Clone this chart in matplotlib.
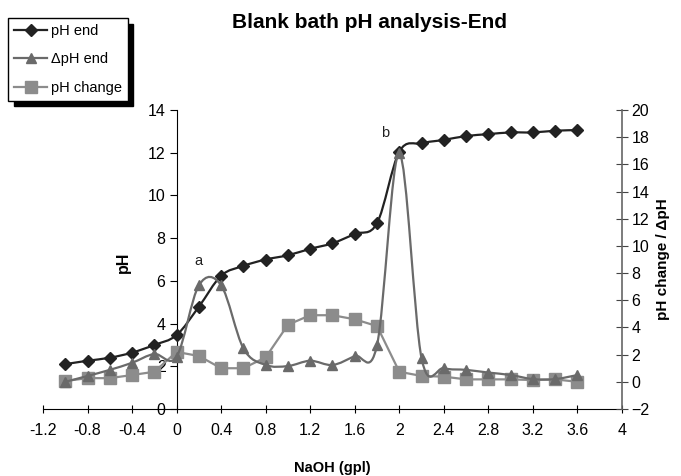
import numpy as np
import matplotlib
matplotlib.use('Agg')
import matplotlib.pyplot as plt
from matplotlib.path import Path
from matplotlib.patches import PathPatch
from matplotlib.lines import Line2D

plt.rcParams['font.family'] = ['Liberation Sans', 'DejaVu Sans']

# NaOH (gpl)
naoh = [-1.0, -0.8, -0.6, -0.4, -0.2, 0.0, 0.2, 0.4, 0.6, 0.8, 1.0, 1.2,
        1.4, 1.6, 1.8, 2.0, 2.2, 2.4, 2.6, 2.8, 3.0, 3.2, 3.4, 3.6]

# left axis
ph_end = [2.1, 2.26, 2.4, 2.64, 3.0, 3.46, 4.79, 6.24, 6.7, 7.0, 7.2, 7.5,
          7.76, 8.2, 8.7, 12.05, 12.44, 12.6, 12.78, 12.87, 12.95, 12.95, 13.03, 13.06]

# right axis
dph_end = [0.0, 0.43, 0.88, 1.4, 2.05, 1.85, 7.1, 7.1, 2.46, 1.24, 1.16, 1.55,
           1.24, 1.9, 2.7, 16.8, 1.73, 1.0, 0.88, 0.68, 0.5, 0.2, 0.2, 0.5]
ph_change = [0.06, 0.27, 0.27, 0.5, 0.74, 2.2, 1.9, 1.0, 1.0, 1.8, 4.2, 4.9,
             4.9, 4.6, 4.1, 0.74, 0.43, 0.38, 0.18, 0.18, 0.18, 0.13, 0.18, 0.0]

x_ticks = [-1.2, -0.8, -0.4, 0, 0.4, 0.8, 1.2, 1.6, 2, 2.4, 2.8, 3.2, 3.6, 4]
x_labels = ['-1.2', '-0.8', '-0.4', '0', '0.4', '0.8', '1.2', '1.6', '2', '2.4', '2.8', '3.2', '3.6', '4']
left_ticks = [0, 2, 4, 6, 8, 10, 12, 14]
right_ticks = [-2, 0, 2, 4, 6, 8, 10, 12, 14, 16, 18, 20]


def smooth_path(x, y):
    # excel style smoothed line (bezier through the points)
    p = np.column_stack([x, y])
    n = len(p)
    verts = [p[0]]
    codes = [Path.MOVETO]
    for i in range(n - 1):
        p0 = p[i - 1] if i > 0 else p[i]
        p3 = p[i + 2] if i + 2 < n else p[i + 1]
        c1 = p[i] + (p[i + 1] - p0) / 6
        c2 = p[i + 1] - (p3 - p[i]) / 6
        verts += [c1, c2, p[i + 1]]
        codes += [Path.CURVE4] * 3
    return Path(verts, codes)


fig = plt.figure(figsize=(6.81, 4.76), dpi=100)
ax = fig.add_axes([43 / 681, 1 - 409 / 476, 579 / 681, 299 / 476])
ax2 = ax.twinx()

c_end = '#222222'
c_dph = '#6a6a6a'
c_chg = '#8c8c8c'

ax.add_patch(PathPatch(smooth_path(naoh, ph_end), fill=False, ec=c_end, lw=1.6, zorder=3))
ax.plot(naoh, ph_end, ls='none', marker='D', ms=6.5, color=c_end, zorder=4)

ax2.plot(naoh, ph_change, color=c_chg, lw=1.6, marker='s', ms=8.5, zorder=2)
ax2.add_patch(PathPatch(smooth_path(naoh, dph_end), fill=False, ec=c_dph, lw=1.6, zorder=3))
ax2.plot(naoh, dph_end, ls='none', marker='^', ms=7.5, color=c_dph, zorder=4)

ax.set_xlim(-1.2, 4)
ax.set_ylim(0, 14)
ax2.set_ylim(-2, 20)

ax.set_xticks(x_ticks)
ax.set_xticklabels(x_labels)
ax.set_yticks(left_ticks)
ax2.set_yticks(right_ticks)

for s in ['top', 'right']:
    ax.spines[s].set_visible(False)
ax.spines['left'].set_position(('data', 0))
for s in ['top', 'left', 'bottom']:
    ax2.spines[s].set_visible(False)
ax2.spines['right'].set_color('#666666')
ax2.spines['right'].set_linewidth(1.2)

ax.tick_params(axis='x', direction='inout', length=6, labelsize=11.5, pad=7)
ax.tick_params(axis='y', direction='out', length=5, labelsize=11.5, pad=3)
ax2.tick_params(axis='y', direction='inout', length=8, labelsize=11.5, pad=3, color='#444444')

ax.set_xlabel('NaOH (gpl)', fontweight='bold', fontsize=10.5)
ax.xaxis.set_label_coords(0.5, -0.175)
ax.set_ylabel('pH', fontweight='bold', fontsize=11.5)
ax.yaxis.set_label_coords(0.152, 0.49)
ax2.set_ylabel('pH change / \u0394pH', fontweight='bold', fontsize=11)
ax2.yaxis.set_label_coords(1.058, 0.5)

ax.text(0.2, 6.6, 'a', fontsize=10.5, ha='center', va='bottom', color='#222222')
ax.text(1.87, 12.6, 'b', fontsize=10.5, ha='center', va='bottom', color='#222222')

fig.text(370 / 681, 1 - 22 / 476, 'Blank bath pH analysis-End', fontsize=15,
         fontweight='bold', ha='center', va='center')

handles = [
    Line2D([], [], color=c_end, lw=1.6, marker='D', ms=6.5),
    Line2D([], [], color=c_dph, lw=1.6, marker='^', ms=7.5),
    Line2D([], [], color=c_chg, lw=1.6, marker='s', ms=8.5),
]
leg = fig.legend(handles, ['pH end', '\u0394pH end', 'pH change'],
                 loc='upper left', bbox_to_anchor=(8 / 681, 1 - 18 / 476),
                 fontsize=10.5, frameon=True, fancybox=False, edgecolor='black',
                 shadow={'color': 'black', 'alpha': 1, 'ox': 4, 'oy': -4},
                 handlelength=2.3, labelspacing=1.0, borderpad=0.4,
                 handletextpad=0.25, borderaxespad=0)
leg.get_frame().set_linewidth(1.0)

fig.savefig('out.png', dpi=100)
